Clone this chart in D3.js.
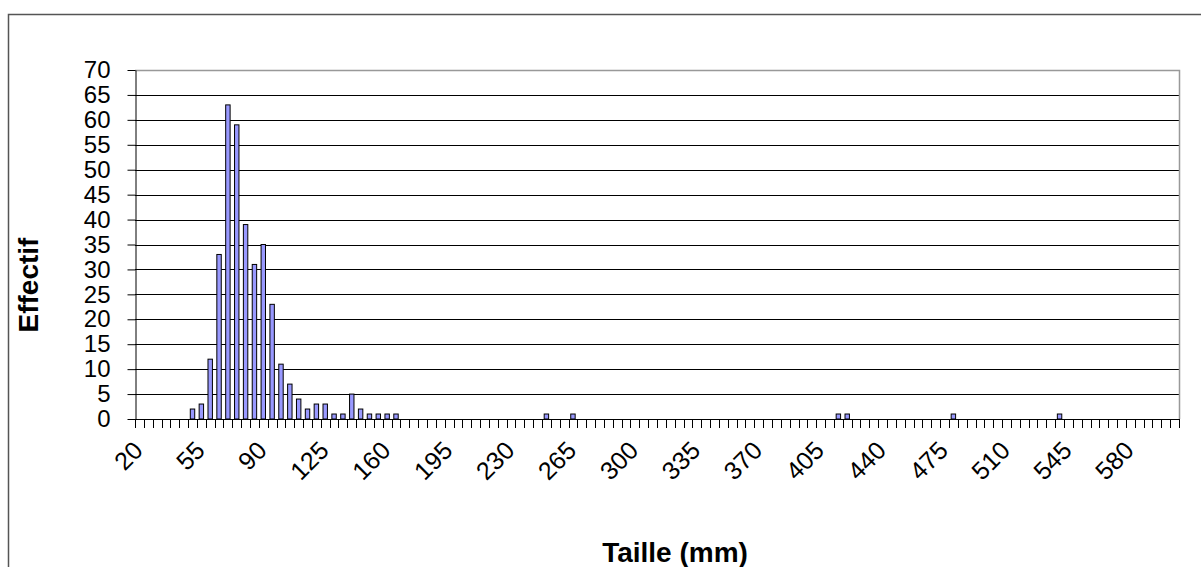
<!DOCTYPE html>
<html>
<head>
<meta charset="utf-8">
<script src="https://cdn.jsdelivr.net/npm/d3@7"></script>
<style>
  html, body { margin: 0; padding: 0; background: #fff; }
  svg { display: block; font-family: "Liberation Sans", Arial, sans-serif; }
</style>
</head>
<body>
<svg id="chart" width="1201" height="567"></svg>
<script>
// ---- data ----
const categories = [20,25,30,35,40,45,50,55,60,65,70,75,80,85,90,95,100,105,110,115,
  120,125,130,135,140,145,150,155,160,165,170,175,180,185,190,195,200,205,210,215,
  220,225,230,235,240,245,250,255,260,265,270,275,280,285,290,295,300,305,310,315,
  320,325,330,335,340,345,350,355,360,365,370,375,380,385,390,395,400,405,410,415,
  420,425,430,435,440,445,450,455,460,465,470,475,480,485,490,495,500,505,510,515,
  520,525,530,535,540,545,550,555,560,565,570,575,580,585,590,595,600,605];
const sizes  = [50,55,60,65,70,75,80,85,90,95,100,105,110,115,120,125,130,135,140,145,150,155,160,165,250,265,415,420,480,540];
const counts = [2, 3, 12,33,63,59,39,31,35,23,11, 7,  4,  2,  3,  3,  1,  1,  5,  2,  1,  1,  1,  1,  1,  1,  1,  1,  1,  1];
const xTickLabels = [20,55,90,125,160,195,230,265,300,335,370,405,440,475,510,545,580];
const yTicks = [0,5,10,15,20,25,30,35,40,45,50,55,60,65,70];
const xTitle = "Taille (mm)";
const yTitle = "Effectif";

// ---- layout ----
const svg = d3.select("#chart");
const plot = {left: 135, right: 1179, top: 70, bottom: 419};

const x = d3.scaleBand().domain(categories).range([plot.left, plot.right])
  .paddingInner(0.5).paddingOuter(0.25);
const y = d3.scaleLinear().domain([0, 70]).range([plot.bottom, plot.top]);
const step = x.step();

// outer chart border
svg.append("rect").attr("x", 8.5).attr("y", 14.5).attr("width", 1400).attr("height", 800)
  .attr("fill", "none").attr("stroke", "#555").attr("stroke-width", 1.5);

// gridlines
svg.append("g").selectAll("line").data(yTicks.filter(v => v > 0 && v < 70)).join("line")
  .attr("x1", plot.left).attr("x2", plot.right)
  .attr("y1", d => Math.round(y(d)) + 0.5).attr("y2", d => Math.round(y(d)) + 0.5)
  .attr("stroke", "#000").attr("stroke-width", 1);

// plot area border (top/right)
svg.append("path")
  .attr("d", `M${plot.left},${plot.top + 0.5}H${plot.right + 0.5}V${plot.bottom}`)
  .attr("fill", "none").attr("stroke", "#999").attr("stroke-width", 1.5);

// bars
const countOf = new Map(sizes.map((s, i) => [s, counts[i]]));
svg.append("g").selectAll("rect").data(categories.filter(c => countOf.get(c) > 0)).join("rect")
  .attr("x", d => x(d))
  .attr("y", d => y(countOf.get(d)))
  .attr("width", x.bandwidth())
  .attr("height", d => y(0) - y(countOf.get(d)))
  .attr("fill", "#9999ff").attr("stroke", "#000").attr("stroke-width", 1);

// y axis
const yAxis = svg.append("g").attr("transform", `translate(${plot.left + 0.5},0)`)
  .call(d3.axisLeft(y).tickValues(yTicks).tickSize(8).tickPadding(17).tickSizeOuter(0));
yAxis.select(".domain").attr("stroke", "#000");
yAxis.selectAll(".tick line").attr("stroke", "#000");
yAxis.selectAll("text").attr("font-size", 24).attr("fill", "#000")
  .attr("font-family", "'Liberation Sans', Arial, sans-serif");

// x axis line
svg.append("line").attr("x1", plot.left).attr("x2", plot.right + 0.5)
  .attr("y1", plot.bottom + 0.5).attr("y2", plot.bottom + 0.5).attr("stroke", "#000");

// x ticks at category boundaries
const boundaries = categories.map(c => x(c) - step * 0.25).concat([plot.right]);
svg.append("g").selectAll("line").data(boundaries).join("line")
  .attr("x1", d => Math.round(d) + 0.5).attr("x2", d => Math.round(d) + 0.5)
  .attr("y1", plot.bottom).attr("y2", plot.bottom + 9)
  .attr("stroke", "#000");

// x tick labels
svg.append("g").selectAll("text").data(xTickLabels).join("text")
  .attr("transform", d => `translate(${x(d) + x.bandwidth() / 2 + 5},${plot.bottom + 33}) rotate(-45)`)
  .attr("text-anchor", "end")
  .attr("font-size", 25).attr("fill", "#000")
  .text(d => d);

// axis titles
svg.append("text").attr("x", 675).attr("y", 562).attr("text-anchor", "middle")
  .attr("font-size", 28).attr("font-weight", "bold").text(xTitle);
svg.append("text").attr("transform", "translate(38,285) rotate(-90)").attr("text-anchor", "middle")
  .attr("font-size", 28).attr("font-weight", "bold").text(yTitle);
</script>
</body>
</html>
